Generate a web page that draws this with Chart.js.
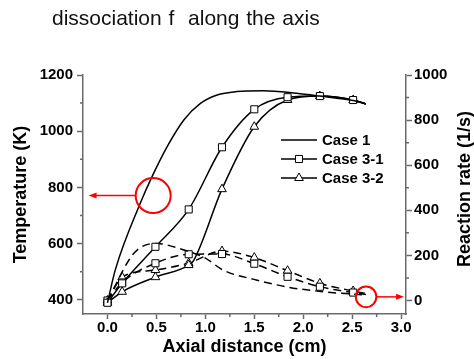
<!DOCTYPE html>
<html>
<head>
<meta charset="utf-8">
<script src="https://cdn.jsdelivr.net/npm/chart.js@4.4.0/dist/chart.umd.min.js"></script>
<style>
  body { margin: 0; background: #fff; }
  #wrap { position: relative; width: 474px; height: 359px; }
  #title { position: absolute; left: 52px; top: 7px; font: 21px 'Liberation Sans', Arial, sans-serif; line-height: 21px; color: #111; word-spacing: 1px; white-space: pre; }
  canvas { position: absolute; left: 0; top: 0; }
</style>
</head>
<body>
<div id="wrap">
  <canvas id="myChart" width="474" height="359"></canvas>
  <div id="title">dissociation f  along the axis</div>
</div>
<script>
// axis ticks
const xTicks = [0, 0.5, 1.0, 1.5, 2.0, 2.5, 3.0];
const xMinor = [0.25, 0.75, 1.25, 1.75, 2.25, 2.75];
const tempTicks = [400, 600, 800, 1000, 1200];
const tempMinor = [500, 700, 900, 1100];
const rateTicks = [0, 200, 400, 600, 800, 1000];
const rateMinor = [100, 300, 500, 700, 900];

// positions where the case 3 markers sit
const markerX = [0, 0.15, 0.49, 0.83, 1.17, 1.50, 1.84, 2.17, 2.51];

// temperature (K), solid lines
const case1TX = [0, 0.08, 0.35, 0.44, 0.61, 0.78, 0.95, 1.12, 1.32, 1.59, 1.93, 2.17, 2.51, 2.64];
const case1T  = [390, 507, 756, 827, 945, 1040, 1099, 1129, 1141, 1144, 1135, 1125, 1109, 1097];
const case31TX = [0, 0.15, 0.49, 0.83, 1.17, 1.50, 1.84, 2.17, 2.51, 2.64];
const case31T  = [390, 459, 589, 722, 943, 1078, 1121, 1125, 1111, 1097];
const case32TX = [0, 0.15, 0.49, 0.83, 0.88, 1.17, 1.50, 1.84, 2.17, 2.51, 2.64];
const case32T  = [390, 429, 481, 524, 540, 794, 1016, 1111, 1125, 1111, 1097];

// reaction rate (1/s), dashed lines
const case1RX = [0, 0.27, 0.49, 0.78, 1.0, 1.18, 1.52, 1.86, 2.2, 2.64];
const case1R  = [0, 209, 253, 224, 188, 135, 91, 58, 39, 24];
const case3RX = [0, 0.15, 0.49, 0.83, 1.17, 1.50, 1.84, 2.17, 2.51, 2.64];
const case31R = [0, 80, 165, 205, 206, 163, 105, 61, 35, 27];
const case32R = [0, 103, 135, 166, 219, 190, 132, 76, 42, 31];

Chart.defaults.font.family = "'Liberation Sans', Arial, sans-serif";
Chart.defaults.color = '#000';

const pairs = (xs, ys) => xs.map((x, i) => ({x: x, y: ys[i]}));

function makeSet(label, xs, ys, axis, style, dashed) {
  return {
    label: label,
    data: pairs(xs, ys),
    yAxisID: axis,
    borderColor: '#000',
    borderWidth: 1.5,
    borderDash: dashed ? [8, 5] : [],
    pointStyle: style || 'circle',
    pointRadius: ctx => (style && markerX.includes(ctx.raw.x)) ? 5 : 0,
    pointHoverRadius: 0,
    pointBackgroundColor: '#fff',
    pointBorderColor: '#000',
    pointBorderWidth: 1,
    cubicInterpolationMode: 'monotone',
    fill: false
  };
}

const tickFont = {size: 15, weight: 'bold'};
const axisGrey = '#6a6a6a';

function fixedTicks(list) {
  return scale => { scale.ticks = list.map(v => ({value: v})); };
}

const extras = {
  id: 'extras',
  afterDraw(chart) {
    const ctx = chart.ctx;
    const area = chart.chartArea;
    const sx = chart.scales.x, sy = chart.scales.y, sy2 = chart.scales.y2;
    ctx.save();

    // minor ticks
    ctx.strokeStyle = axisGrey;
    ctx.lineWidth = 1.5;
    ctx.beginPath();
    xMinor.forEach(v => { const p = sx.getPixelForValue(v); ctx.moveTo(p, area.bottom); ctx.lineTo(p, area.bottom + 3); });
    tempMinor.forEach(v => { const p = sy.getPixelForValue(v); ctx.moveTo(area.left, p); ctx.lineTo(area.left - 3, p); });
    rateMinor.forEach(v => { const p = sy2.getPixelForValue(v); ctx.moveTo(area.right, p); ctx.lineTo(area.right + 3, p); });
    ctx.stroke();

    // right axis title, reads bottom to top
    ctx.save();
    ctx.translate(465, 189);
    ctx.rotate(-Math.PI / 2);
    ctx.fillStyle = '#000';
    ctx.font = "bold 18px 'Liberation Sans', Arial, sans-serif";
    ctx.textAlign = 'center';
    ctx.textBaseline = 'middle';
    ctx.fillText('Reaction rate (1/s)', 0, 0);
    ctx.restore();

    // legend
    ctx.font = "bold 15px 'Liberation Sans', Arial, sans-serif";
    ctx.textBaseline = 'middle';
    ctx.textAlign = 'left';
    const lx = area.left + 198;
    chart.data.datasets.slice(0, 3).forEach((ds, i) => {
      const y = area.top + 65 + i * 19;
      ctx.strokeStyle = '#000';
      ctx.lineWidth = 1.5;
      ctx.beginPath();
      ctx.moveTo(lx, y);
      ctx.lineTo(lx + 36, y);
      ctx.stroke();
      if (i > 0) {
        ctx.fillStyle = '#fff';
        ctx.lineWidth = 1;
        Chart.helpers.drawPoint(ctx, {pointStyle: ds.pointStyle, radius: 5, borderWidth: 1, rotation: 0}, lx + 18, y);
      }
      ctx.fillStyle = '#000';
      ctx.fillText(ds.label, lx + 41, y + 1);
    });

    // red callouts
    const callouts = [
      {x: 0.467, y: 771, scale: sy, r: 17.5, toX: -0.193},
      {x: 2.642, y: 16, scale: sy2, r: 10.3, toX: 3.03}
    ];
    ctx.strokeStyle = '#f00';
    ctx.fillStyle = '#f00';
    callouts.forEach(c => {
      const cx = sx.getPixelForValue(c.x);
      const cy = c.scale.getPixelForValue(c.y);
      const tx = sx.getPixelForValue(c.toX);
      const dir = tx < cx ? -1 : 1;
      ctx.lineWidth = 2;
      ctx.beginPath();
      ctx.arc(cx, cy, c.r, 0, Math.PI * 2);
      ctx.stroke();
      ctx.lineWidth = 1.5;
      ctx.beginPath();
      ctx.moveTo(cx + dir * c.r, cy);
      ctx.lineTo(tx - dir * 5, cy);
      ctx.stroke();
      ctx.beginPath();
      ctx.moveTo(tx, cy);
      ctx.lineTo(tx - dir * 8, cy - 3);
      ctx.lineTo(tx - dir * 8, cy + 3);
      ctx.closePath();
      ctx.fill();
    });

    ctx.restore();
  }
};

const config = {
  type: 'line',
  data: {
    datasets: [
      makeSet('Case 1', case1TX, case1T, 'y', null, false),
      makeSet('Case 3-1', case31TX, case31T, 'y', 'rect', false),
      makeSet('Case 3-2', case32TX, case32T, 'y', 'triangle', false),
      makeSet('Case 1 rate', case1RX, case1R, 'y2', null, true),
      makeSet('Case 3-1 rate', case3RX, case31R, 'y2', 'rect', true),
      makeSet('Case 3-2 rate', case3RX, case32R, 'y2', 'triangle', true)
    ]
  },
  options: {
    responsive: false,
    animation: false,
    events: [],
    layout: { padding: { top: 75, left: 0, right: 0, bottom: 0 } },
    plugins: {
      legend: { display: false },
      tooltip: { enabled: false }
    },
    scales: {
      x: {
        type: 'linear',
        min: -0.25,
        max: 3.05,
        afterBuildTicks: fixedTicks(xTicks),
        afterFit: s => { s.height = 45; },
        ticks: { callback: v => v.toFixed(1), font: tickFont, padding: 0, maxRotation: 0, autoSkip: false },
        grid: { drawOnChartArea: false, tickLength: 5, tickColor: axisGrey, tickWidth: 1.5 },
        border: { color: axisGrey, width: 1.5 },
        title: { display: true, text: 'Axial distance (cm)', font: {size: 18, weight: 'bold'}, padding: {top: 0, bottom: 1.5} }
      },
      y: {
        position: 'left',
        min: 350,
        max: 1200,
        afterBuildTicks: fixedTicks(tempTicks),
        afterFit: s => { s.width = 83; },
        ticks: { callback: v => String(v), font: tickFont, padding: 4 },
        grid: { drawOnChartArea: false, tickLength: 6, tickColor: axisGrey, tickWidth: 1.5 },
        border: { color: axisGrey, width: 1.5 },
        title: { display: true, text: 'Temperature (K)', font: {size: 18, weight: 'bold'}, padding: {top: 10, bottom: 0} }
      },
      y2: {
        position: 'right',
        min: -60,
        max: 1000,
        afterBuildTicks: fixedTicks(rateTicks),
        afterFit: s => { s.width = 68; },
        ticks: { callback: v => String(v), font: tickFont, padding: 2 },
        grid: { drawOnChartArea: false, tickLength: 6, tickColor: axisGrey, tickWidth: 1.5 },
        border: { color: axisGrey, width: 1.5 }
      }
    }
  },
  plugins: [extras]
};

new Chart(document.getElementById('myChart'), config);
</script>
</body>
</html>
